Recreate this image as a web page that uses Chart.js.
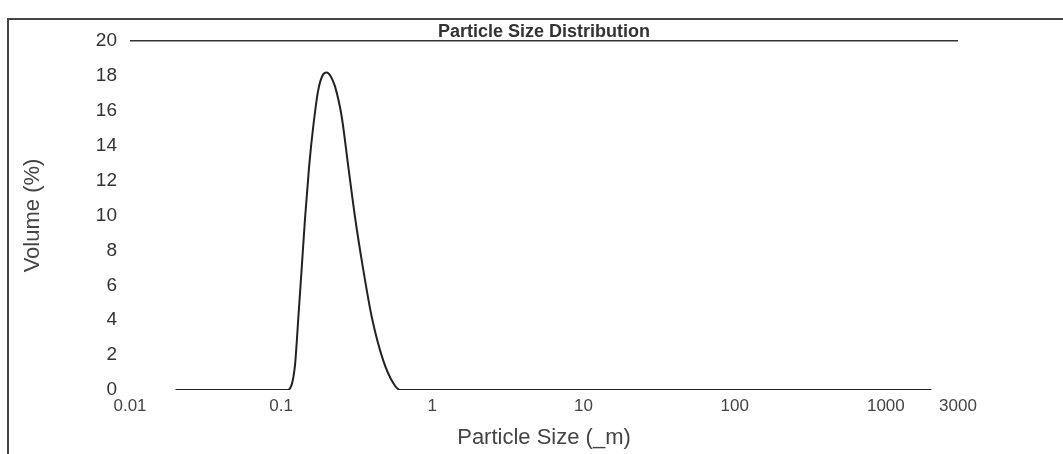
<!DOCTYPE html>
<html>
<head>
<meta charset="utf-8">
<script src="https://cdn.jsdelivr.net/npm/chart.js@4"></script>
<style>
  body { margin: 0; background: #fff; }
  #wrap { position: relative; width: 1063px; height: 454px; overflow: hidden; }
  #frame { position: absolute; left: 7px; top: 18px; right: -10px; bottom: -10px;
           border-left: 2px solid #444; border-top: 2px solid #444; }
  #myChart { position: absolute; left: 0; top: 0; }
</style>
</head>
<body>
<div id="wrap">
  <div id="frame"></div>
  <canvas id="myChart" width="1063" height="454"></canvas>
</div>
<script>
// particle size (um) and volume (%)
const sizes = [0.02, 0.11, 0.123, 0.13, 0.137, 0.144, 0.153, 0.163, 0.176, 0.19, 0.2, 0.212,
  0.227, 0.251, 0.278, 0.308, 0.346, 0.397, 0.473, 0.551, 0.611, 2000];
const volumes = [0, 0, 1.3, 4.2, 7.1, 9.9, 12.8, 15.1, 17.2, 18.1, 18.2, 18.0,
  17.4, 15.7, 12.8, 9.9, 7.1, 4.2, 1.7, 0.4, 0, 0];

const xTicks = [0.01, 0.1, 1, 10, 100, 1000, 3000];
const xTickLabels = ['0.01', '0.1', '1', '10', '100', '1000', '3000'];

function createChart() {
  var points = [];
  for (let i = 0; i < sizes.length; i++) {
    points.push({x: sizes[i], y: volumes[i]});
  }

  Chart.defaults.font.family = "'Liberation Sans', Arial, sans-serif";

  let ctx = document.getElementById("myChart").getContext("2d");
  return new Chart(ctx, {
    type: 'line',
    data: {
      datasets: [{
        label: 'Volume',
        data: points,
        borderColor: '#222',
        borderWidth: 2,
        pointRadius: 0,
        cubicInterpolationMode: 'monotone',
        fill: false
      }]
    },
    options: {
      responsive: false,
      animation: false,
      layout: { padding: { left: 0, right: 105, top: 0, bottom: 0 } },
      plugins: {
        legend: { display: false },
        tooltip: { enabled: false },
        title: {
          display: true,
          text: 'Particle Size Distribution',
          fullSize: false,
          color: '#333',
          font: { size: 18, weight: 'bold', lineHeight: 1 },
          padding: { top: 23, bottom: 0 }
        }
      },
      scales: {
        x: {
          type: 'logarithmic',
          min: 0.01,
          max: 3000,
          grid: { display: false, drawTicks: false },
          border: { display: false },
          afterBuildTicks: function(scale) {
            scale.ticks = xTicks.map(v => ({ value: v }));
          },
          afterFit: function(scale) { scale.height = 64; },
          ticks: {
            autoSkip: false,
            maxRotation: 0,
            padding: 6,
            color: '#444',
            font: { size: 17 },
            callback: function(val, i) { return xTickLabels[i]; }
          },
          title: {
            display: true,
            text: 'Particle Size (_m)',
            color: '#444',
            font: { size: 22 },
            padding: { top: 0, bottom: 3 }
          }
        },
        y: {
          min: 0,
          max: 20,
          grid: {
            drawTicks: false,
            lineWidth: 1.5,
            color: c => (c.tick && c.tick.value === 20) ? '#333' : 'rgba(0,0,0,0)'
          },
          border: { display: false },
          afterFit: function(scale) { scale.width = 130; },
          ticks: {
            stepSize: 2,
            padding: 13,
            color: '#333',
            font: { size: 19 }
          },
          title: {
            display: true,
            text: 'Volume (%)',
            color: '#444',
            font: { size: 22 },
            padding: { top: 20, bottom: 0 }
          }
        }
      }
    }
  });
}

createChart();
</script>
</body>
</html>
